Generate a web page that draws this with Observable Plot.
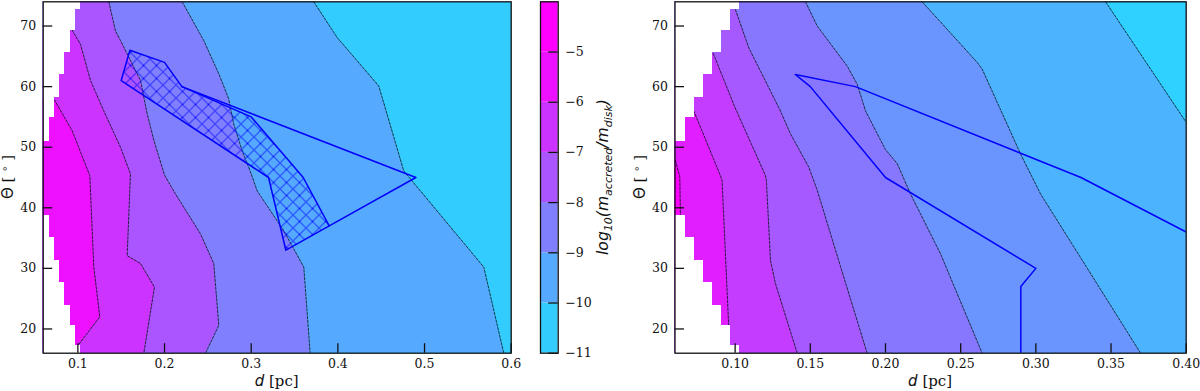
<!DOCTYPE html>
<html><head><meta charset="utf-8">
<script src="https://cdn.jsdelivr.net/npm/d3@7"></script>
<script src="https://cdn.jsdelivr.net/npm/@observablehq/plot@0.6"></script>
<style>
body{margin:0;background:#fff;}
#fig{position:relative;width:1200px;height:391px;overflow:hidden;background:#fff;}
#fig svg{position:absolute;top:0;}
</style></head><body><div id="fig"></div>
<script>
// ---------------- data ----------------
const thetaDomain = [16, 74];
const leftDomain = [0.06, 0.6];
const rightDomain = [0.06, 0.40];
const leftXTicks = [0.1, 0.2, 0.3, 0.4, 0.5, 0.6];
const rightXTicks = [0.10, 0.15, 0.20, 0.25, 0.30, 0.35, 0.40];
const thetaTicks = [20, 30, 40, 50, 60, 70];

// colorbar levels log10(m_accreted/m_disk)
const cbLower = [-11, -10, -9, -8, -7, -6, -5];
const cbUpper = [-10, -9, -8, -7, -6, -5, -4];
const cbTicks = [-11, -10, -9, -8, -7, -6, -5];

// no-data staircase (theta band -> largest d without data)
const maskThetaLo = [72.75, 69.2, 65.6, 62.0, 58.2, 54.9, 51.0, 35.1, 31.3, 27.7, 23.85, 20.55, 17.25, 16];
const maskThetaHi = [74, 72.75, 69.2, 65.6, 62.0, 58.2, 54.9, 38.7, 35.1, 31.3, 27.7, 23.85, 20.55, 17.25];
const maskD = [0.103, 0.097, 0.091, 0.085, 0.079, 0.073, 0.067, 0.067, 0.073, 0.079, 0.085, 0.091, 0.097, 0.103];

// left panel contour lines [d, theta] (levels -6 ... -10)
const leftC6 = [[0.0730,57.8],[0.0935,52.7],[0.1138,45.3],[0.1184,30.2],[0.1253,22.0],[0.0992,17.1]];
const leftC7 = [[0.0935,69.3],[0.1030,67.0],[0.1146,61.0],[0.1299,56.0],[0.1492,50.0],[0.1607,45.6],[0.1569,32.1],[0.1723,30.8],[0.1884,26.9],[0.1761,16.0]];
const leftC8 = [[0.1357,74],[0.1434,69.2],[0.1492,67.6],[0.1723,61.0],[0.1800,55.5],[0.1880,51.0],[0.2000,45.4],[0.2126,42.3],[0.2415,35.7],[0.2568,30.8],[0.2626,20.6],[0.2473,16]];
const leftC9 = [[0.2204,74],[0.2453,67.6],[0.2630,62.0],[0.2740,58.0],[0.2799,53.8],[0.2896,49.4],[0.3000,45.6],[0.3069,42.8],[0.3376,36.2],[0.3607,30.2],[0.3680,16]];
const leftC10 = [[0.3722,74],[0.3992,68.1],[0.4472,60.1],[0.4760,46.1],[0.5684,30.2],[0.5914,16]];

// right panel contour lines [d, theta]
const rightC1 = [[0.0603,47.8],[0.0632,45.1],[0.0636,38.8]];
const rightC2 = [[0.0725,56.0],[0.0902,45.3],[0.0913,44.5],[0.0957,20.6]];
const rightC3 = [[0.0854,65.5],[0.1000,56.5],[0.1202,45.3],[0.1208,44.5],[0.1235,31.3],[0.1268,27.5],[0.1413,16]];
const rightC4 = [[0.1002,72.7],[0.1091,66.4],[0.1301,56.0],[0.1368,52.2],[0.1490,46.7],[0.1546,42.9],[0.1701,30.3],[0.1878,16]];
const rightC5 = [[0.1468,74],[0.1546,70.0],[0.1745,63.4],[0.1812,60.4],[0.1867,56.0],[0.2000,49.6],[0.2078,47.3],[0.2166,42.3],[0.2366,32.4],[0.2643,16]];
const rightC6 = [[0.2244,74],[0.2610,64.0],[0.2643,62.9],[0.2898,48.9],[0.3031,42.3],[0.3697,16]];
const rightC7 = [[0.3464,74],[0.4000,54.1]];

// constraint regions [d, theta]
const leftHatched = [[0.16,66],[0.20,64],[0.22,60],[0.30,55],[0.36,45],[0.39,37],[0.34,33],[0.32,45],[0.15,61],[0.16,66]];
const leftOutline = [[0.22,60],[0.49,45],[0.39,37]];
const rightOutline = [[0.29,16],[0.29,27],[0.30,30],[0.20,45],[0.15,60],[0.14,62],[0.18,60],[0.33,45],[0.40,36]];

// ---------------- styles ----------------
const cbColors = ["#33ccff","#55aaff","#8080ff","#aa55ff","#cc33ff","#ee11ff","#ff00ff"];
const leftBackground = "#33ccff";
const leftFills = ["#ee11ff","#cc33ff","#aa55ff","#8080ff","#55aaff"];
const rightBackground = "#4cb3ff";
const rightOuterFill = "#2ed1ff";
const rightFills = ["#ff00ff","#e11eff","#c33cff","#a559ff","#8777ff","#6a95ff"];
const BLUE = "#0000ff";
const SERIF = "DejaVu Serif";
const H = 391, MT = 1.3, MB = H - 352.7;
const frameH = H - MT - MB;
const tickLen = 9.5;
const baseStyle = {fontFamily: SERIF, fontSize: "12.5px", color: "#111", background: "transparent", overflow: "visible"};

const fig = document.getElementById("fig");

function panel({left, width, marginLeft, marginRight, domain, xTicks, xFormat, background, fills, contours, outer, extraMarks}) {
  const frameW = width - marginLeft - marginRight;
  const xy = {x: p => p[0], y: p => p[1]};
  const marks = [Plot.frame({fill: background, stroke: "none"})];
  if (outer) marks.push(Plot.areaX(outer.line, {x1: p => p[0], x2: domain[1], y: p => p[1], fill: outer.color}));
  for (let i = contours.length - 1; i >= 0; i--) {
    if (fills[i]) marks.push(Plot.areaX(contours[i], {x1: domain[0], x2: p => p[0], y: p => p[1], fill: fills[i]}));
  }
  const allLines = outer ? contours.concat([outer.line]) : contours;
  for (const c of allLines) marks.push(Plot.line(c, {...xy, stroke: "#000", strokeWidth: 0.85, strokeOpacity: 0.85, strokeDasharray: "2.4,1.5", clip: true}));
  const maskIdx = maskD.map((_, i) => i);
  marks.push(Plot.rect(maskIdx, {x1: domain[0], x2: i => maskD[i], y1: i => maskThetaLo[i], y2: i => maskThetaHi[i], fill: "white", shapeRendering: "crispEdges"}));
  marks.push(...extraMarks(xy));
  marks.push(
    Plot.axisX({ticks: xTicks, tickFormat: xFormat, tickSize: 0, tickPadding: 6, label: null, fontSize: 12.5, fontFamily: SERIF}),
    Plot.axisY({ticks: thetaTicks, tickSize: 0, tickPadding: 7, label: null, fontSize: 12.5, fontFamily: SERIF}),
    Plot.tickX(xTicks, {x: d => d, insetTop: frameH - tickLen, stroke: "#111", strokeWidth: 1.3}),
    Plot.tickY(thetaTicks, {y: d => d, insetRight: frameW - tickLen, stroke: "#111", strokeWidth: 1.3}),
    Plot.frame({stroke: "#111", strokeWidth: 1.3})
  );
  const svg = Plot.plot({
    width, height: H, marginLeft, marginRight, marginTop: MT, marginBottom: MB,
    x: {domain, axis: null},
    y: {domain: thetaDomain, axis: null},
    style: baseStyle,
    marks
  });
  svg.style.left = left + "px";
  const s = d3.select(svg);
  // x label
  const xl = s.append("text").attr("x", marginLeft + frameW / 2).attr("y", 386)
    .attr("text-anchor", "middle").attr("fill", "#111").attr("font-size", 15);
  xl.append("tspan").attr("font-family", "DejaVu Sans").attr("font-style", "italic").text("d");
  xl.append("tspan").attr("font-family", SERIF).text(" [pc]");
  // y label
  const yl = s.append("text").attr("transform", `translate(${marginLeft - 30},${MT + frameH / 2}) rotate(-90)`)
    .attr("text-anchor", "middle").attr("fill", "#111").attr("font-size", 15);
  yl.append("tspan").attr("font-family", "DejaVu Sans").text("Θ");
  yl.append("tspan").attr("font-family", SERIF).text(" [ ");
  yl.append("tspan").attr("font-family", "DejaVu Sans").attr("font-size", 10).attr("dy", -5).text("∘");
  yl.append("tspan").attr("font-family", SERIF).attr("dy", 5).text(" ]");
  return svg;
}

// left panel
const leftSvg = panel({
  left: 0, width: 530, marginLeft: 42.7, marginRight: 19.3,
  domain: leftDomain, xTicks: leftXTicks, xFormat: d3.format(".1f"),
  background: leftBackground, fills: leftFills,
  contours: [leftC6, leftC7, leftC8, leftC9, leftC10],
  extraMarks: (xy) => [
    Plot.line(leftHatched, {...xy, fill: "url(#xhatch)", stroke: BLUE, strokeWidth: 1.5, clip: true}),
    Plot.line(leftOutline, {...xy, stroke: BLUE, strokeWidth: 1.5, clip: true})
  ]
});
const defs = d3.select(leftSvg).insert("defs", ":first-child");
const pat = defs.append("pattern").attr("id", "xhatch").attr("patternUnits", "userSpaceOnUse")
  .attr("width", 13).attr("height", 13);
pat.append("path").attr("d", "M-1,-1L14,14M14,-1L-1,14").attr("stroke", BLUE).attr("stroke-width", 0.9).attr("fill", "none");
fig.appendChild(leftSvg);

// colorbar
const cbW = 100, cbML = 10, cbBar = 17.7;
const cbSvg = Plot.plot({
  width: cbW, height: H, marginLeft: cbML, marginRight: cbW - cbML - cbBar, marginTop: MT, marginBottom: MB,
  x: {domain: [0, 1], axis: null},
  y: {domain: [-11, -4], axis: null},
  color: {type: "identity"},
  style: baseStyle,
  marks: [
    Plot.rect(cbLower.map((_, i) => i), {x1: 0, x2: 1, y1: i => cbLower[i], y2: i => cbUpper[i], fill: i => cbColors[i]}),
    Plot.tickY(cbTicks, {y: d => d, insetLeft: cbBar - tickLen, stroke: "#111", strokeWidth: 1.3}),
    Plot.axisY({anchor: "right", ticks: cbTicks, tickSize: 0, tickPadding: 7, tickFormat: d => "−" + Math.abs(d), label: null, fontSize: 12.5, fontFamily: SERIF}),
    Plot.frame({stroke: "#111", strokeWidth: 1.3})
  ]
});
cbSvg.style.left = "530px";
{
  const t = d3.select(cbSvg).append("text")
    .attr("transform", `translate(${608 - 530},${MT + frameH / 2}) rotate(-90)`)
    .attr("text-anchor", "middle").attr("fill", "#111")
    .attr("font-family", "DejaVu Sans").attr("font-style", "italic").attr("font-size", 15.6);
  const sub = (txt) => t.append("tspan").attr("font-size", 11).attr("dy", 3.5).text(txt);
  const main = (txt) => t.append("tspan").attr("font-size", 15.6).attr("dy", -3.5).text(txt);
  t.append("tspan").text("log");
  sub("10"); main("(m"); sub("accreted"); main("/m"); sub("disk"); main(")");
}
fig.appendChild(cbSvg);

// right panel
const rightSvg = panel({
  left: 630, width: 570, marginLeft: 44.5, marginRight: 14.3,
  domain: rightDomain, xTicks: rightXTicks, xFormat: d3.format(".2f"),
  background: rightBackground, fills: rightFills,
  contours: [rightC1, rightC2, rightC3, rightC4, rightC5, rightC6],
  outer: {line: rightC7, color: rightOuterFill},
  extraMarks: (xy) => [
    Plot.line(rightOutline, {...xy, stroke: BLUE, strokeWidth: 1.5, clip: true})
  ]
});
fig.appendChild(rightSvg);
</script></body></html>
